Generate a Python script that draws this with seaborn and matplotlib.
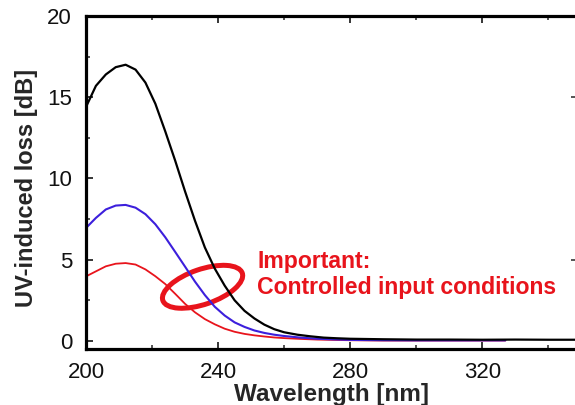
import matplotlib
matplotlib.use("Agg")
import matplotlib.pyplot as plt
import pandas as pd
import seaborn as sns
from matplotlib.patches import Ellipse
from matplotlib.transforms import ScaledTranslation
from matplotlib.ticker import MultipleLocator

# UV-induced loss spectra for three exposure conditions
wl_high = [200, 203, 206, 209, 212, 215, 218, 221, 224, 227, 230, 233, 236, 239,
           242, 245, 248, 251, 254, 257, 260, 264, 268, 272, 276, 280, 290, 300,
           310, 320, 330, 340, 349]
loss_high = [14.4, 15.7, 16.4, 16.85, 17.0, 16.7, 15.9, 14.6, 12.9, 11.1, 9.2,
             7.4, 5.75, 4.45, 3.4, 2.5, 1.85, 1.38, 1.0, 0.72, 0.53, 0.38, 0.28,
             0.2, 0.16, 0.13, 0.1, 0.08, 0.08, 0.07, 0.08, 0.07, 0.07]

wl_mid = [200, 203, 206, 209, 212, 215, 218, 221, 224, 227, 230, 233, 236, 239,
          242, 245, 248, 251, 254, 257, 260, 265, 270, 275, 280, 290, 300, 310,
          320, 327]
loss_mid = [6.95, 7.57, 8.09, 8.33, 8.37, 8.2, 7.8, 7.18, 6.38, 5.48, 4.57, 3.65,
            2.82, 2.1, 1.56, 1.14, 0.86, 0.64, 0.49, 0.38, 0.3, 0.2, 0.13, 0.09,
            0.06, 0.04, 0.03, 0.03, 0.03, 0.03]

wl_low = [200, 203, 206, 209, 212, 215, 218, 221, 224, 227, 230, 233, 236, 239,
          242, 245, 248, 251, 254, 257, 260, 265, 270, 280, 290, 300, 315, 327]
loss_low = [3.97, 4.28, 4.59, 4.75, 4.79, 4.7, 4.4, 3.98, 3.5, 2.9, 2.28, 1.76,
            1.34, 1.02, 0.75, 0.56, 0.43, 0.34, 0.27, 0.21, 0.17, 0.12, 0.08,
            0.04, 0.02, 0.02, 0.02, 0.02]

x_ticks = [200, 240, 280, 320]
y_ticks = [0, 5, 10, 15, 20]
note_lines = ["Important:", "Controlled input conditions"]

RED = "#e8141c"
BLUE = "#3c1fdc"
BLACK = "#000000"

sns.set_theme(style="ticks")
plt.rcParams["font.family"] = ["Liberation Sans", "DejaVu Sans"]

fig = plt.figure(figsize=(5.75, 4.05), dpi=100)
ax = fig.add_axes([86 / 575, 56 / 405, (578 - 86) / 575, 333 / 405])

sns.lineplot(x=wl_low, y=loss_low, ax=ax, color=RED, linewidth=1.3)
sns.lineplot(x=wl_mid, y=loss_mid, ax=ax, color=BLUE, linewidth=1.5)
sns.lineplot(x=wl_high, y=loss_high, ax=ax, color=BLACK, linewidth=1.6)

ax.set_xlim(200, 349)
ax.set_ylim(-0.5, 20)
ax.set_xticks(x_ticks)
ax.set_yticks(y_ticks)
ax.xaxis.set_minor_locator(MultipleLocator(20))
ax.yaxis.set_minor_locator(MultipleLocator(2.5))

for side in ["left", "bottom", "top", "right"]:
    ax.spines[side].set_visible(True)
    ax.spines[side].set_linewidth(2.3)
    ax.spines[side].set_color("black")

ax.tick_params(which="major", direction="in", length=5, width=1.1,
               top=True, right=False, labelsize=16, pad=10, colors="black")
ax.tick_params(which="minor", direction="in", length=3, width=1.1,
               top=True, right=False)
ax.tick_params(axis="x", which="major", pad=9)
for lbl in ax.get_xticklabels() + ax.get_yticklabels():
    lbl.set_color("#111111")

# right-hand axis marks
twin = ax.twinx()
twin.set_ylim(ax.get_ylim())
twin.set_yticks([5, 15])
twin.tick_params(direction="in", length=5, width=1.1, labelright=False)
for side in twin.spines.values():
    side.set_visible(False)

ax.set_xlabel("Wavelength [nm]", fontsize=17.5, fontweight="bold")
ax.set_ylabel("UV-induced loss [dB]", fontsize=17, fontweight="bold")
ax.xaxis.set_label_coords(0.5, -0.102)
ax.yaxis.set_label_coords(-0.097, 0.483)

# highlighted crossing region
ring = Ellipse((0, 0), width=0.84, height=0.35, angle=19, fill=False,
               edgecolor=RED, linewidth=3.6,
               transform=fig.dpi_scale_trans + ScaledTranslation(235.3, 3.33, ax.transData))
ax.add_patch(ring)

ax.text(251.8, 4.49, note_lines[0], color=RED, fontsize=16.6, fontweight="bold",
        ha="left", va="baseline")
ax.text(251.8, 2.88, note_lines[1], color=RED, fontsize=16.6, fontweight="bold",
        ha="left", va="baseline")

fig.savefig("out.png", dpi=100)
